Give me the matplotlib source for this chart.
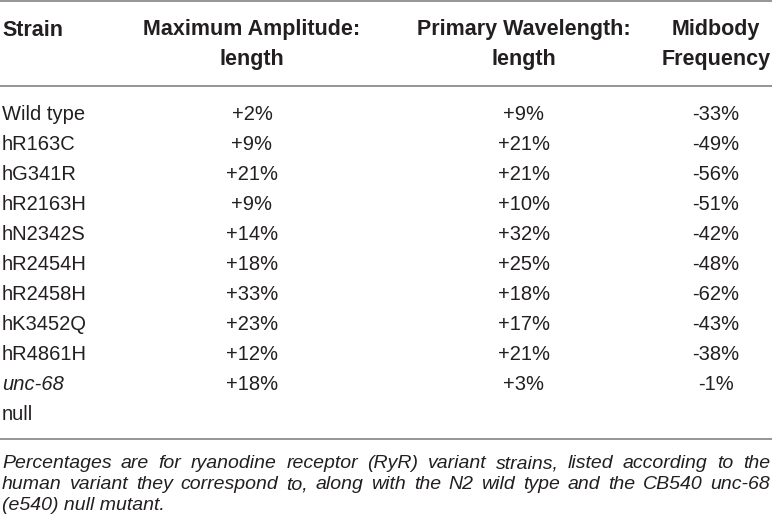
import matplotlib
matplotlib.use('Agg')
import matplotlib.pyplot as plt

# Datos de la tabla
strains = ['Wild type', 'hR163C', 'hG341R', 'hR2163H', 'hN2342S', 'hR2454H',
           'hR2458H', 'hK3452Q', 'hR4861H', 'unc-68']
max_amplitude = ['+2%', '+9%', '+21%', '+9%', '+14%', '+18%', '+33%', '+23%', '+12%', '+18%']
wavelength = ['+9%', '+21%', '+21%', '+10%', '+32%', '+25%', '+18%', '+17%', '+21%', '+3%']
frequency = ['-33%', '-49%', '-56%', '-51%', '-42%', '-48%', '-62%', '-43%', '-38%', '-1%']
headers = ['Strain', 'Maximum Amplitude:\nlength', 'Primary Wavelength:\nlength', 'Midbody\nFrequency']
footnote = ['Percentages are for ryanodine receptor (RyR) variant strains, listed according to the',
            'human variant they correspond to, along with the N2 wild type and the CB540 unc-68',
            '(e540) null mutant.']

plt.rcParams['font.family'] = ['Liberation Sans', 'DejaVu Sans']
color_texto = '#231f20'
color_linea = '#8c8c8c'
fs_cab = 15.5      # encabezados
fs = 14.5          # filas
fs_nota = 14       # nota al pie
base = 6.5         # desplazamiento del centro a la línea base

fig = plt.figure(figsize=(7.72, 5.30), dpi=100)
ax = fig.add_axes([0, 0, 1, 1])
ax.set_xlim(0, 772)
ax.set_ylim(530, 0)
ax.axis('off')

# Líneas horizontales
for y in [1, 86, 439]:
    ax.plot([0, 772], [y, y], color=color_linea, lw=1.3, solid_capstyle='butt')

# Encabezados
col_x = [252, 524, 716]
ax.text(2, 29 + base, headers[0], ha='left', va='baseline', fontsize=fs_cab,
        fontweight='bold', color=color_texto)
for x, h in zip(col_x, headers[1:]):
    l1, l2 = h.split('\n')
    ax.text(x, 29 + base, l1, ha='center', va='baseline', fontsize=fs_cab,
            fontweight='bold', color=color_texto)
    ax.text(x, 58 + base, l2, ha='center', va='baseline', fontsize=fs_cab,
            fontweight='bold', color=color_texto)

# Filas
y0, paso = 113, 30
for i, s in enumerate(strains):
    y = y0 + i * paso + base
    estilo = 'italic' if s == 'unc-68' else 'normal'
    ax.text(2, y, s, ha='left', va='baseline', fontsize=fs, style=estilo, color=color_texto)
    for x, v in zip(col_x, [max_amplitude[i], wavelength[i], frequency[i]]):
        ax.text(x, y, v, ha='center', va='baseline', fontsize=fs, color=color_texto)
ax.text(2, y0 + len(strains) * paso + base, 'null', ha='left', va='baseline',
        fontsize=fs, color=color_texto)

# Nota al pie, justificada
fig.canvas.draw()
renderer = fig.canvas.get_renderer()
izq, der = 2, 770
for j, linea in enumerate(footnote):
    y = 462 + j * 20.5 + base
    if j == len(footnote) - 1:
        ax.text(izq, y, linea, ha='left', va='baseline', fontsize=fs_nota,
                style='italic', color=color_texto)
        continue
    palabras = linea.split(' ')
    objs = [ax.text(0, y, p, ha='left', va='baseline', fontsize=fs_nota,
                    style='italic', color=color_texto) for p in palabras]
    anchos = [o.get_window_extent(renderer).width for o in objs]
    hueco = (der - izq - sum(anchos)) / (len(objs) - 1)
    x = izq
    for o, w in zip(objs, anchos):
        o.set_x(x)
        x += w + hueco

fig.savefig('out.png', dpi=100)
